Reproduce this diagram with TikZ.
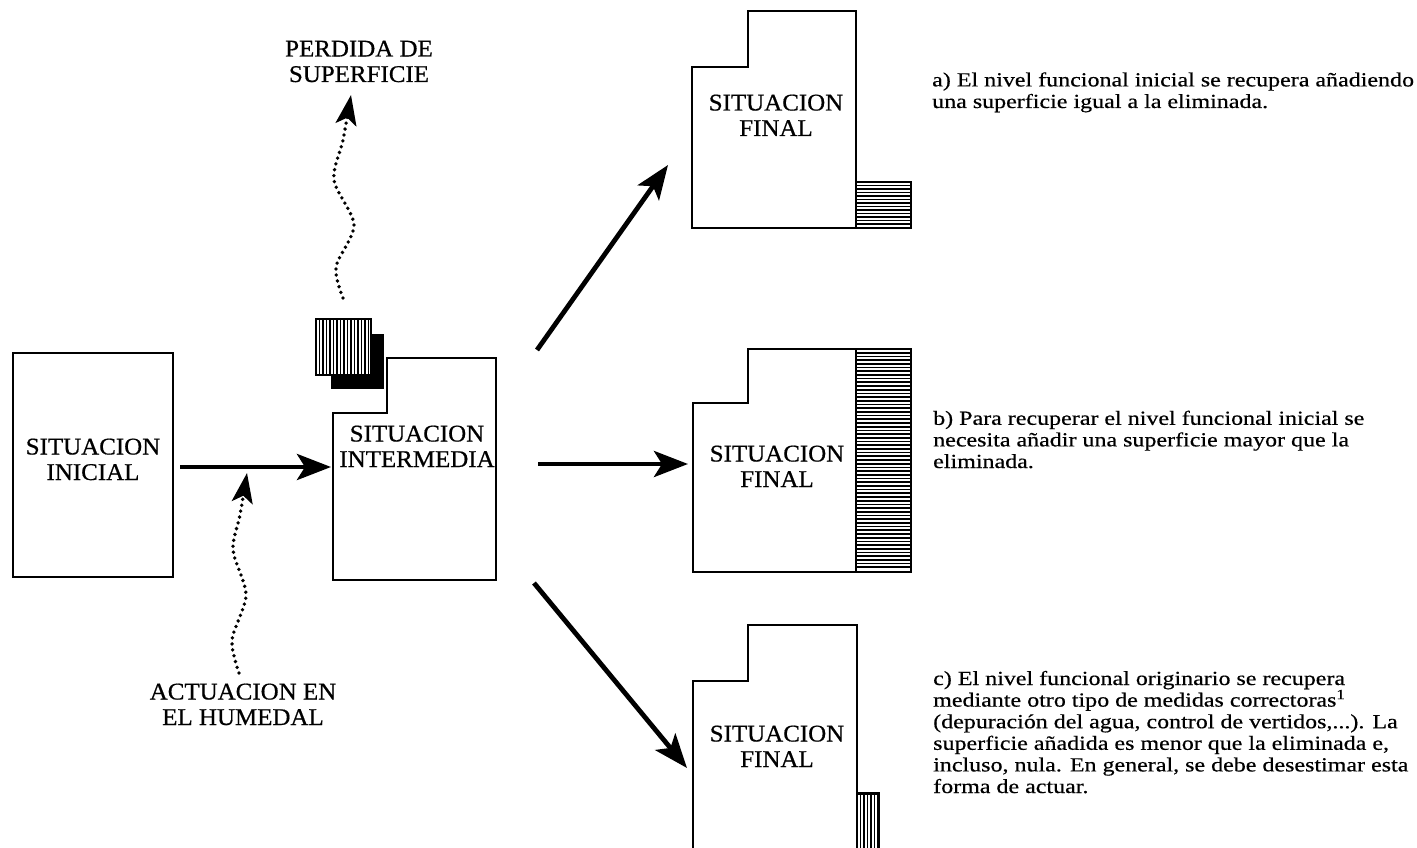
\documentclass[tikz,border=0pt]{standalone}
\usepackage{fontspec}
\setmainfont{Liberation Serif}
\newfontfamily\labelfont[FakeStretch=1.04,FakeBold=0.6]{Liberation Serif}
\newfontfamily\notefont[FakeStretch=1.2,FakeBold=0.5]{Liberation Serif}
\usetikzlibrary{arrows.meta}
\begin{document}
\begin{tikzpicture}[x=1pt,y=-1pt,
  box/.style={line width=1.8pt, line join=miter},
  boxlabel/.style={font=\labelfont\fontsize{24}{25.5}\selectfont, align=center, anchor=base, inner sep=0pt},
  note/.style={font=\notefont\fontsize{20}{21.6}\selectfont, align=left, anchor=base west, inner sep=0pt},
  bigarrow/.style={line width=4.8pt, -{Stealth[length=34pt,width=26pt,inset=8pt]}},
  wavy/.style={line width=3.8pt, line cap=round, dash pattern=on 0pt off 6pt, -{Stealth[length=30pt,width=21pt,inset=7pt]}},
  hatch/.style={line width=1.7pt},
  patch/.style={line width=1.6pt, fill=white}]
\useasboundingbox (0,0) rectangle (1417,848);

% ---- initial box
\node[draw, line width=1.8pt, minimum width=160pt, minimum height=224pt, inner sep=0pt] (ini) at (93,465) {};
\node[boxlabel] (iniLabel) at (93,480) {SITUACION\\INICIAL};

% ---- intermediate box
\draw[box] (387,358) -- (496,358) -- (496,580) -- (333,580) -- (333,413) -- (387,413) -- cycle;
\node[boxlabel] (midLabel) at (417,467) {SITUACION\\INTERMEDIA};

% removed surface squares
\fill[black] (331,334) rectangle (384,389);
\draw[patch] (316,319) rectangle (371,375);
\foreach \x in {319.5,323,...,369} \draw[hatch,line width=1.8pt] (\x,319) -- (\x,375);

% ---- final box 1
\draw[box] (748,11) -- (856,11) -- (856,228) -- (692,228) -- (692,67) -- (748,67) -- cycle;
\node[boxlabel] (f1Label) at (776,136) {SITUACION\\FINAL};
\draw[patch] (856,182) rectangle (911,228);
\foreach \y in {185.5,189,...,226} \draw[hatch] (856,\y) -- (911,\y);

% ---- final box 2
\draw[box] (748,349) -- (856,349) -- (856,572) -- (693,572) -- (693,403) -- (748,403) -- cycle;
\node[boxlabel] (f2Label) at (777,487) {SITUACION\\FINAL};
\draw[patch] (856,349) rectangle (911,572);
\foreach \y in {352.7,356.4,...,570} \draw[hatch] (856,\y) -- (911,\y);

% ---- final box 3
\draw[box] (693,850) -- (693,681) -- (748,681) -- (748,625) -- (857,625) -- (857,850);
\node[boxlabel] (f3Label) at (777,767) {SITUACION\\FINAL};
\draw[patch] (857,793) rectangle (879,850);
\fill[black] (857,792) rectangle (879,795);
\foreach \x in {860.5,864,...,878} \draw[hatch] (\x,793) -- (\x,850);

% ---- main arrows
\coordinate (iniOut) at (180,467);
\coordinate (midIn) at (331,467);
\draw[bigarrow] (iniOut) -- (midIn);

\coordinate (midOut1) at (537,350);
\coordinate (f1In) at (668,165);
\coordinate (midOut2) at (538,464);
\coordinate (f2In) at (688,464);
\coordinate (midOut3) at (534,583);
\coordinate (f3In) at (687,768);
\draw[bigarrow] (midOut1) -- (f1In);
\draw[bigarrow] (midOut2) -- (f2In);
\draw[bigarrow] (midOut3) -- (f3In);

% ---- wavy dotted arrows
\node[boxlabel] (act) at (243,725) {ACTUACION EN\\EL HUMEDAL};
\coordinate (a0) at (239,673);
\coordinate (a1) at (232,640);
\coordinate (a2) at (246,595);
\coordinate (a3) at (233,550);
\coordinate (a4) at (240,515);
\coordinate (a5) at (247,473);
\draw[wavy] plot[smooth] coordinates {(a0) (a1) (a2) (a3) (a4) (a5)};

\node[boxlabel] (perd) at (359,82) {PERDIDA DE\\SUPERFICIE};
\coordinate (p0) at (343,298);
\coordinate (p1) at (336,267);
\coordinate (p2) at (354,225);
\coordinate (p3) at (334,180);
\coordinate (p4) at (343,140);
\coordinate (p5) at (351,95);
\draw[wavy] plot[smooth] coordinates {(p0) (p1) (p2) (p3) (p4) (p5)};

% ---- notes
\node[note] (noteA) at (932,108) {a) El nivel funcional inicial se recupera añadiendo\\una superficie igual a la eliminada.};
\node[note] (noteB) at (933,468) {b) Para recuperar el nivel funcional inicial se\\necesita añadir una superficie mayor que la\\eliminada.};
\node[note] (noteC) at (933,793) {c) El nivel funcional originario se recupera\\mediante otro tipo de medidas correctoras\textsuperscript{1}\\(depuración del agua, control de vertidos,...). La\\superficie añadida es menor que la eliminada e,\\incluso, nula. En general, se debe desestimar esta\\forma de actuar.};
\end{tikzpicture}
\end{document}
